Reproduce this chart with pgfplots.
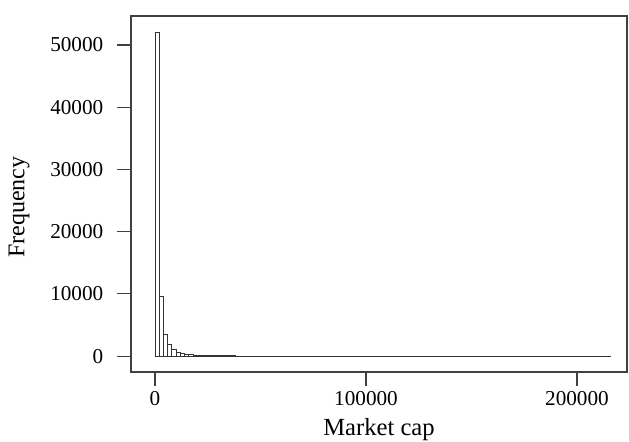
\documentclass[border=0pt]{standalone}
\usepackage{fontspec}
\setmainfont{Liberation Serif}
\usepackage{pgfplots}
\pgfplotsset{compat=1.18}

\begin{document}
\fontsize{11}{13}\selectfont
\begin{tikzpicture}
    \begin{axis}[
        scale only axis,
        width=248pt, height=178pt,
        xmin=-11400, xmax=223700,
        ymin=-2550, ymax=54650,
        xtick={0,100000,200000},
        ytick={0,10000,20000,30000,40000,50000},
        xtick pos=bottom, ytick pos=left,
        tick align=outside,
        major tick length=7pt,
        scaled ticks=false,
        xticklabels={0,100000,200000},
        yticklabels={0,10000,20000,30000,40000,50000},
        yticklabel style={font=\fontsize{10.6}{12}\selectfont, xshift=-3pt},
        xticklabel style={font=\fontsize{10.6}{12}\selectfont, yshift=1pt},
        axis line style={black!75, line width=0.6pt},
        tick style={black!75, line width=0.6pt},
        xlabel={Market cap},
        ylabel={Frequency},
        xlabel style={at={(axis description cs:0.5,0)}, anchor=north, yshift=-19.5pt, font=\fontsize{12.3}{14}\selectfont},
        ylabel style={at={(axis description cs:0,0.463)}, anchor=center, yshift=56pt, font=\fontsize{12}{14}\selectfont},
        clip=false,
    ]
    % histogram counts, bins of width 2000
    \addplot[ybar interval, fill=white, draw=black!80, line width=0.5pt] coordinates {
        (0,52000) (2000,9600) (4000,3500) (6000,1900) (8000,1100)
        (10000,640) (12000,400) (14000,260) (16000,180) (18000,130)
        (20000,95) (22000,70) (24000,55) (26000,45) (28000,35)
        (30000,30) (32000,26) (34000,22) (36000,19) (38000,16)
        (40000,14) (42000,12) (44000,11) (46000,10) (48000,9)
        (50000,8) (52000,7) (54000,7) (56000,6) (58000,6)
        (60000,5) (62000,5) (64000,4) (66000,4) (68000,4)
        (70000,3) (72000,3) (74000,3) (76000,3) (78000,2)
        (80000,2) (82000,2) (84000,2) (86000,2) (88000,2)
        (90000,2) (92000,1) (94000,1) (96000,1) (98000,1)
        (100000,1) (102000,1) (104000,1) (106000,1) (108000,1)
        (110000,1) (112000,0) (114000,1) (116000,0) (118000,1)
        (120000,0) (122000,1) (124000,0) (126000,0) (128000,1)
        (130000,0) (132000,0) (134000,1) (136000,0) (138000,0)
        (140000,0) (142000,1) (144000,0) (146000,0) (148000,0)
        (150000,1) (152000,0) (154000,0) (156000,0) (158000,0)
        (160000,0) (162000,1) (164000,0) (166000,0) (168000,0)
        (170000,0) (172000,0) (174000,0) (176000,1) (178000,0)
        (180000,0) (182000,0) (184000,0) (186000,0) (188000,0)
        (190000,0) (192000,0) (194000,0) (196000,0) (198000,1)
        (200000,0) (202000,0) (204000,0) (206000,0) (208000,0)
        (210000,0) (212000,0) (214000,1) (216000,0)
    };
    \coordinate (bl) at (rel axis cs:0,0);
    \coordinate (tr) at (rel axis cs:1,1);
    \end{axis}
    \pgfresetboundingbox
    \path ([shift={(-65.5pt,-35pt)}]bl) rectangle ([shift={(1pt,8pt)}]tr);
\end{tikzpicture}
\end{document}
